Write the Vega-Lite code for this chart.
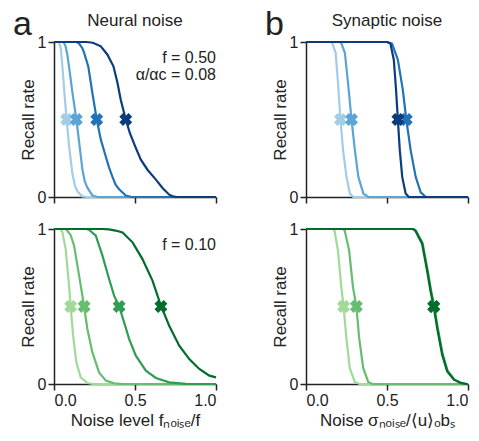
{
  "$schema": "https://vega.github.io/schema/vega-lite/v6.json",
  "padding": {"left": 13, "top": 8, "right": 5, "bottom": 5},
  "config": {
    "font": "Liberation Sans",
    "view": {"stroke": null},
    "axis": {"domainColor": "#222", "domainWidth": 1.5, "tickColor": "#222", "tickWidth": 1.5, "tickSize": 6, "labelFontSize": 16, "titleFontSize": 17, "titleFontWeight": "normal", "labelColor": "#222", "titleColor": "#222", "grid": false},
    "title": {"fontSize": 17, "fontWeight": "normal", "color": "#222"}
  },
  "datasets": {
    "aTop": [
      {"s":1,"x":0,"y":1},{"s":1,"x":0.031,"y":1},{"s":1,"x":0.042,"y":0.96},{"s":1,"x":0.052,"y":0.84},{"s":1,"x":0.066,"y":0.65},{"s":1,"x":0.078,"y":0.5},{"s":1,"x":0.093,"y":0.33},{"s":1,"x":0.113,"y":0.155},{"s":1,"x":0.13,"y":0.07},{"s":1,"x":0.144,"y":0.037},{"s":1,"x":0.175,"y":0.004},{"s":1,"x":0.2,"y":0},{"s":1,"x":1,"y":0},
      {"s":2,"x":0,"y":1},{"s":2,"x":0.06,"y":1},{"s":2,"x":0.072,"y":0.97},{"s":2,"x":0.082,"y":0.92},{"s":2,"x":0.093,"y":0.84},{"s":2,"x":0.113,"y":0.68},{"s":2,"x":0.138,"y":0.5},{"s":2,"x":0.158,"y":0.33},{"s":2,"x":0.175,"y":0.18},{"s":2,"x":0.19,"y":0.1},{"s":2,"x":0.206,"y":0.06},{"s":2,"x":0.237,"y":0.01},{"s":2,"x":0.27,"y":0},{"s":2,"x":1,"y":0},
      {"s":3,"x":0,"y":1},{"s":3,"x":0.14,"y":1},{"s":3,"x":0.155,"y":0.99},{"s":3,"x":0.175,"y":0.96},{"s":3,"x":0.186,"y":0.93},{"s":3,"x":0.212,"y":0.84},{"s":3,"x":0.237,"y":0.67},{"s":3,"x":0.264,"y":0.5},{"s":3,"x":0.289,"y":0.37},{"s":3,"x":0.32,"y":0.26},{"s":3,"x":0.34,"y":0.19},{"s":3,"x":0.361,"y":0.13},{"s":3,"x":0.38,"y":0.08},{"s":3,"x":0.402,"y":0.05},{"s":3,"x":0.443,"y":0.01},{"s":3,"x":0.48,"y":0},{"s":3,"x":1,"y":0},
      {"s":4,"x":0,"y":1},{"s":4,"x":0.2,"y":1},{"s":4,"x":0.24,"y":0.995},{"s":4,"x":0.289,"y":0.972},{"s":4,"x":0.33,"y":0.918},{"s":4,"x":0.367,"y":0.843},{"s":4,"x":0.392,"y":0.735},{"s":4,"x":0.412,"y":0.628},{"s":4,"x":0.443,"y":0.5},{"s":4,"x":0.468,"y":0.413},{"s":4,"x":0.501,"y":0.327},{"s":4,"x":0.536,"y":0.241},{"s":4,"x":0.577,"y":0.176},{"s":4,"x":0.629,"y":0.112},{"s":4,"x":0.67,"y":0.058},{"s":4,"x":0.711,"y":0.015},{"s":4,"x":0.74,"y":0.002},{"s":4,"x":0.76,"y":0},{"s":4,"x":1,"y":0}
    ],
    "aTopX": [{"s":1,"x":0.078,"y":0.5},{"s":2,"x":0.138,"y":0.5},{"s":3,"x":0.264,"y":0.5},{"s":4,"x":0.443,"y":0.5}],
    "bTop": [
      {"s":1,"x":0,"y":1},{"s":1,"x":0.155,"y":1},{"s":1,"x":0.163,"y":0.99},{"s":1,"x":0.183,"y":0.93},{"s":1,"x":0.198,"y":0.73},{"s":1,"x":0.2125,"y":0.5},{"s":1,"x":0.229,"y":0.3},{"s":1,"x":0.25,"y":0.13},{"s":1,"x":0.271,"y":0.022},{"s":1,"x":0.292,"y":0},{"s":1,"x":1,"y":0},
      {"s":2,"x":0,"y":1},{"s":2,"x":0.21,"y":1},{"s":2,"x":0.219,"y":0.99},{"s":2,"x":0.24,"y":0.93},{"s":2,"x":0.26,"y":0.73},{"s":2,"x":0.281,"y":0.5},{"s":2,"x":0.302,"y":0.3},{"s":2,"x":0.323,"y":0.13},{"s":2,"x":0.354,"y":0.022},{"s":2,"x":0.385,"y":0},{"s":2,"x":1,"y":0},
      {"s":3,"x":0,"y":1},{"s":3,"x":0.5,"y":1},{"s":3,"x":0.531,"y":0.99},{"s":3,"x":0.567,"y":0.886},{"s":3,"x":0.598,"y":0.69},{"s":3,"x":0.619,"y":0.5},{"s":3,"x":0.646,"y":0.302},{"s":3,"x":0.677,"y":0.13},{"s":3,"x":0.708,"y":0.03},{"s":3,"x":0.74,"y":0},{"s":3,"x":1,"y":0},
      {"s":4,"x":0,"y":1},{"s":4,"x":0.5,"y":1},{"s":4,"x":0.521,"y":0.99},{"s":4,"x":0.542,"y":0.886},{"s":4,"x":0.556,"y":0.69},{"s":4,"x":0.567,"y":0.5},{"s":4,"x":0.579,"y":0.302},{"s":4,"x":0.594,"y":0.13},{"s":4,"x":0.615,"y":0.022},{"s":4,"x":0.635,"y":0},{"s":4,"x":1,"y":0}
    ],
    "bTopX": [{"s":1,"x":0.2125,"y":0.5},{"s":2,"x":0.281,"y":0.5},{"s":3,"x":0.619,"y":0.5},{"s":4,"x":0.567,"y":0.5}],
    "aBot": [
      {"s":1,"x":0,"y":1},{"s":1,"x":0.04,"y":1},{"s":1,"x":0.052,"y":0.98},{"s":1,"x":0.072,"y":0.871},{"s":1,"x":0.093,"y":0.634},{"s":1,"x":0.103,"y":0.5},{"s":1,"x":0.118,"y":0.312},{"s":1,"x":0.138,"y":0.14},{"s":1,"x":0.165,"y":0.043},{"s":1,"x":0.206,"y":0.006},{"s":1,"x":0.24,"y":0},{"s":1,"x":1,"y":0},
      {"s":2,"x":0,"y":1},{"s":2,"x":0.07,"y":1},{"s":2,"x":0.082,"y":0.99},{"s":2,"x":0.103,"y":0.96},{"s":2,"x":0.124,"y":0.892},{"s":2,"x":0.155,"y":0.699},{"s":2,"x":0.186,"y":0.5},{"s":2,"x":0.206,"y":0.355},{"s":2,"x":0.237,"y":0.204},{"s":2,"x":0.278,"y":0.075},{"s":2,"x":0.32,"y":0.022},{"s":2,"x":0.371,"y":0.004},{"s":2,"x":0.42,"y":0},{"s":2,"x":1,"y":0},
      {"s":3,"x":0,"y":1},{"s":3,"x":0.2,"y":1},{"s":3,"x":0.216,"y":0.995},{"s":3,"x":0.258,"y":0.957},{"s":3,"x":0.299,"y":0.828},{"s":3,"x":0.34,"y":0.677},{"s":3,"x":0.371,"y":0.57},{"s":3,"x":0.402,"y":0.5},{"s":3,"x":0.433,"y":0.398},{"s":3,"x":0.464,"y":0.29},{"s":3,"x":0.505,"y":0.183},{"s":3,"x":0.567,"y":0.086},{"s":3,"x":0.629,"y":0.039},{"s":3,"x":0.711,"y":0.011},{"s":3,"x":0.814,"y":0.001},{"s":3,"x":1,"y":0},
      {"s":4,"x":0,"y":1},{"s":4,"x":0.3,"y":1},{"s":4,"x":0.34,"y":0.998},{"s":4,"x":0.38,"y":0.99},{"s":4,"x":0.423,"y":0.978},{"s":4,"x":0.485,"y":0.914},{"s":4,"x":0.546,"y":0.806},{"s":4,"x":0.608,"y":0.667},{"s":4,"x":0.66,"y":0.505},{"s":4,"x":0.711,"y":0.376},{"s":4,"x":0.773,"y":0.247},{"s":4,"x":0.835,"y":0.161},{"s":4,"x":0.897,"y":0.097},{"s":4,"x":0.959,"y":0.054},{"s":4,"x":1,"y":0.043}
    ],
    "aBotX": [{"s":1,"x":0.103,"y":0.5},{"s":2,"x":0.186,"y":0.5},{"s":3,"x":0.402,"y":0.5},{"s":4,"x":0.66,"y":0.5}],
    "bBot": [
      {"s":1,"x":0,"y":1},{"s":1,"x":0.165,"y":1},{"s":1,"x":0.176,"y":0.99},{"s":1,"x":0.197,"y":0.863},{"s":1,"x":0.218,"y":0.625},{"s":1,"x":0.232,"y":0.5},{"s":1,"x":0.249,"y":0.299},{"s":1,"x":0.27,"y":0.104},{"s":1,"x":0.301,"y":0.013},{"s":1,"x":0.33,"y":0},{"s":1,"x":1,"y":0},
      {"s":2,"x":0,"y":1},{"s":2,"x":0.228,"y":1},{"s":2,"x":0.239,"y":0.99},{"s":2,"x":0.266,"y":0.863},{"s":2,"x":0.29,"y":0.625},{"s":2,"x":0.311,"y":0.5},{"s":2,"x":0.328,"y":0.299},{"s":2,"x":0.353,"y":0.104},{"s":2,"x":0.384,"y":0.013},{"s":2,"x":0.41,"y":0},{"s":2,"x":1,"y":0},
      {"s":3,"x":0,"y":1},{"s":3,"x":0.664,"y":1},{"s":3,"x":0.678,"y":0.99},{"s":3,"x":0.72,"y":0.907},{"s":3,"x":0.751,"y":0.733},{"s":3,"x":0.772,"y":0.603},{"s":3,"x":0.792,"y":0.5},{"s":3,"x":0.813,"y":0.364},{"s":3,"x":0.844,"y":0.191},{"s":3,"x":0.875,"y":0.082},{"s":3,"x":0.917,"y":0.028},{"s":3,"x":0.958,"y":0.007},{"s":3,"x":0.99,"y":0},{"s":3,"x":1,"y":0},
      {"s":4,"x":0,"y":1},{"s":4,"x":0.66,"y":1},{"s":4,"x":0.674,"y":0.99},{"s":4,"x":0.716,"y":0.907},{"s":4,"x":0.747,"y":0.733},{"s":4,"x":0.768,"y":0.603},{"s":4,"x":0.788,"y":0.5},{"s":4,"x":0.809,"y":0.364},{"s":4,"x":0.84,"y":0.191},{"s":4,"x":0.871,"y":0.082},{"s":4,"x":0.913,"y":0.028},{"s":4,"x":0.954,"y":0.007},{"s":4,"x":0.99,"y":0},{"s":4,"x":1,"y":0}
    ],
    "bBotX": [{"s":1,"x":0.232,"y":0.5},{"s":2,"x":0.311,"y":0.5},{"s":3,"x":0.79,"y":0.5},{"s":4,"x":0.788,"y":0.5}],
    "notesA": [{"label": "f = 0.50", "x": 1, "y": 0.9}, {"label": "α/αc = 0.08", "x": 1, "y": 0.79}],
    "notesB": [{"label": "f = 0.10", "x": 1, "y": 0.9}]
  },
  "spacing": 44,
  "resolve": {"scale": {"color": "independent"}},
  "hconcat": [
    {
      "title": {"text": "a", "anchor": "start", "fontSize": 34, "offset": -30, "dx": -6},
      "spacing": 16,
      "resolve": {"scale": {"color": "independent"}},
      "vconcat": [
        {
          "width": 162, "height": 155,
          "title": {"text": "Neural noise", "offset": 4},
          "layer": [
            {"data": {"name": "aTop"}, "mark": {"type": "line", "strokeWidth": 2.2},
             "encoding": {
               "x": {"field": "x", "type": "quantitative", "scale": {"domain": [0, 1], "nice": false}, "axis": {"values": [0, 0.5, 1], "labels": false, "title": null}},
               "y": {"field": "y", "type": "quantitative", "scale": {"domain": [0, 1], "nice": false}, "axis": {"values": [0, 1], "format": "d", "title": "Recall rate", "titlePadding": 0}},
               "color": {"field": "s", "type": "ordinal", "scale": {"domain": [1, 2, 3, 4], "range": ["#a3cde6", "#5aa4d6", "#2272b7", "#0b3c7e"]}, "legend": null}}},
            {"data": {"name": "aTopX"}, "mark": {"type": "point", "shape": "cross", "angle": 45, "filled": true, "size": 170, "opacity": 1},
             "encoding": {"x": {"field": "x", "type": "quantitative"}, "y": {"field": "y", "type": "quantitative"}, "color": {"field": "s", "type": "ordinal", "legend": null}}},
            {"data": {"name": "notesA"}, "mark": {"type": "text", "align": "right", "fontSize": 16, "color": "#222"},
             "encoding": {"x": {"field": "x", "type": "quantitative"}, "y": {"field": "y", "type": "quantitative"}, "text": {"field": "label"}}}
          ]
        },
        {
          "width": 162, "height": 155,
          "layer": [
            {"data": {"name": "aBot"}, "mark": {"type": "line", "strokeWidth": 2.2},
             "encoding": {
               "x": {"field": "x", "type": "quantitative", "scale": {"domain": [0, 1], "nice": false}, "axis": {"values": [0, 0.5, 1], "format": ".1f", "title": "Noise level fₙₒᵢₛₑ/f", "titlePadding": 4}},
               "y": {"field": "y", "type": "quantitative", "scale": {"domain": [0, 1], "nice": false}, "axis": {"values": [0, 1], "format": "d", "title": "Recall rate", "titlePadding": 0}},
               "color": {"field": "s", "type": "ordinal", "scale": {"domain": [1, 2, 3, 4], "range": ["#a1d99b", "#66bd6f", "#2f9e52", "#006d2c"]}, "legend": null}}},
            {"data": {"name": "aBotX"}, "mark": {"type": "point", "shape": "cross", "angle": 45, "filled": true, "size": 170, "opacity": 1},
             "encoding": {"x": {"field": "x", "type": "quantitative"}, "y": {"field": "y", "type": "quantitative"}, "color": {"field": "s", "type": "ordinal", "legend": null}}},
            {"data": {"name": "notesB"}, "mark": {"type": "text", "align": "right", "fontSize": 16, "color": "#222"},
             "encoding": {"x": {"field": "x", "type": "quantitative"}, "y": {"field": "y", "type": "quantitative"}, "text": {"field": "label"}}}
          ]
        }
      ]
    },
    {
      "title": {"text": "b", "anchor": "start", "fontSize": 34, "offset": -30, "dx": -6},
      "spacing": 16,
      "resolve": {"scale": {"color": "independent"}},
      "vconcat": [
        {
          "width": 162, "height": 155,
          "title": {"text": "Synaptic noise", "offset": 4},
          "layer": [
            {"data": {"name": "bTop"}, "mark": {"type": "line", "strokeWidth": 2.2},
             "encoding": {
               "x": {"field": "x", "type": "quantitative", "scale": {"domain": [0, 1], "nice": false}, "axis": {"values": [0, 0.5, 1], "labels": false, "title": null}},
               "y": {"field": "y", "type": "quantitative", "scale": {"domain": [0, 1], "nice": false}, "axis": {"values": [0, 1], "format": "d", "title": "Recall rate", "titlePadding": 0}},
               "color": {"field": "s", "type": "ordinal", "scale": {"domain": [1, 2, 3, 4], "range": ["#a3cde6", "#5aa4d6", "#2272b7", "#0b3c7e"]}, "legend": null}}},
            {"data": {"name": "bTopX"}, "mark": {"type": "point", "shape": "cross", "angle": 45, "filled": true, "size": 170, "opacity": 1},
             "encoding": {"x": {"field": "x", "type": "quantitative"}, "y": {"field": "y", "type": "quantitative"}, "color": {"field": "s", "type": "ordinal", "legend": null}}}
          ]
        },
        {
          "width": 162, "height": 155,
          "layer": [
            {"data": {"name": "bBot"}, "mark": {"type": "line", "strokeWidth": 2.2},
             "encoding": {
               "x": {"field": "x", "type": "quantitative", "scale": {"domain": [0, 1], "nice": false}, "axis": {"values": [0, 0.5, 1], "format": ".1f", "title": "Noise σₙₒᵢₛₑ/⟨u⟩ₒbₛ", "titlePadding": 4}},
               "y": {"field": "y", "type": "quantitative", "scale": {"domain": [0, 1], "nice": false}, "axis": {"values": [0, 1], "format": "d", "title": "Recall rate", "titlePadding": 0}},
               "color": {"field": "s", "type": "ordinal", "scale": {"domain": [1, 2, 3, 4], "range": ["#a1d99b", "#66bd6f", "#2f9e52", "#006d2c"]}, "legend": null}}},
            {"data": {"name": "bBotX"}, "mark": {"type": "point", "shape": "cross", "angle": 45, "filled": true, "size": 170, "opacity": 1},
             "encoding": {"x": {"field": "x", "type": "quantitative"}, "y": {"field": "y", "type": "quantitative"}, "color": {"field": "s", "type": "ordinal", "legend": null}}}
          ]
        }
      ]
    }
  ]
}
